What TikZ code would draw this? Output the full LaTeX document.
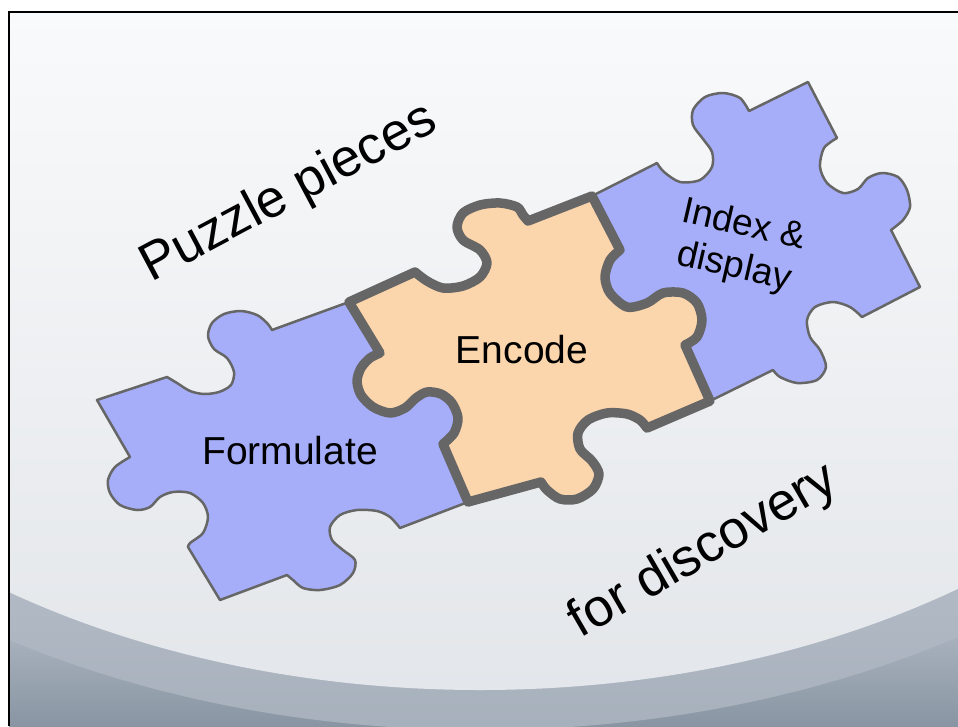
\documentclass[tikz,border=0pt]{standalone}
\usepackage{fontspec}
\setmainfont{Liberation Sans}
\definecolor{pblue}{HTML}{A6AEFA}
\definecolor{porange}{HTML}{FBD5AB}
\definecolor{pborder}{HTML}{666666}
\definecolor{bglight}{HTML}{F9FAFB}
\definecolor{bglow}{HTML}{E3E6EA}
\definecolor{bgmid}{HTML}{C9D0D8}
\definecolor{bgdark}{HTML}{8995A3}
\definecolor{bgband}{HTML}{AFB8C3}
\tikzset{
  bluepiece/.style={fill=pblue, draw=pborder, line width=2.5pt, line join=round},
  orangepiece/.style={fill=porange, draw=pborder, line width=9.5pt, line join=round},
  bigtext/.style={font=\fontsize{53}{60}\selectfont, inner sep=0pt},
  piecetext/.style={font=\fontsize{39}{44}\selectfont, inner sep=0pt, align=center},
}
\begin{document}
\begin{tikzpicture}[x=1pt, y=-1pt]
\useasboundingbox (0,0) rectangle (958,726);
\fill[white] (0,0) rectangle (958,726);
% slide background
\begin{scope}
  \clip (9,12) rectangle (958,726);
  \shade[top color=bgmid, bottom color=bgdark] (9,540) rectangle (958,726);
  \fill[bgband, opacity=0.8] (480,120) ellipse [x radius=900, y radius=610];
  \begin{scope}
    \clip (480,150) ellipse [x radius=820, y radius=540];
    \shade[top color=bglight, middle color=bglight, bottom color=bglow] (9,12) rectangle (958,690);
  \end{scope}
\end{scope}
\draw[line width=2pt] (9,726) -- (9,12) -- (958,12);

% Formulate piece
\path[bluepiece] (97,400) -- (167,377)
  -- plot[smooth] coordinates {(167,377) (177,383) (190,391) (204,394) (219,392) (231,385) (234,372) (227,358) (214,349) (208,336) (212,323) (224,314) (241,311) (257,315) (267,323) (272,330)}
  -- (349,302) -- (380,353)
  -- plot[smooth] coordinates {(380,353) (370,358) (361,368) (357,381) (361,395) (373,407) (390,413) (405,408) (416,398) (427,392) (441,394) (452,403) (458,418) (454,433) (443,444)}
  -- (468,502) -- (400,528)
  -- plot[smooth] coordinates {(400,528) (390,517) (377,511) (357,510) (340,515) (330,527) (332,540) (343,550) (355,560) (353,573) (340,585) (320,590) (303,588) (293,580) (287,575)}
  -- (220,600) -- (188,547)
  -- plot[smooth] coordinates {(188,547) (190,543) (203,533) (208,517) (203,503) (190,493) (173,492) (160,497) (150,507) (137,510) (120,505) (110,493) (108,480) (115,467) (130,457)}
  -- cycle;

% Index piece
\path[bluepiece] (592,196) -- (657,163)
  -- plot[smooth] coordinates {(657,163) (664,172) (680,182) (700,180) (712,167) (712,152) (703,139) (693,125) (693,110) (705,97) (723,93) (740,98) (749,111)}
  -- (808,82) -- (837,138)
  -- plot[smooth] coordinates {(837,138) (824,148) (820,167) (827,183) (843,193) (858,189) (868,178) (882,173) (898,177) (907,190) (910,207) (903,220) (891,230)}
  -- (920,287) -- (862,317)
  -- plot[smooth] coordinates {(862,317) (850,307) (833,302) (815,307) (807,320) (810,337) (820,350) (826,367) (817,380) (797,383) (780,377) (773,370)}
  -- (710,401) -- (685,345)
  -- plot[smooth] coordinates {(685,345) (697,337) (702,320) (697,303) (683,293) (663,293) (647,303) (627,307) (610,293) (605,277) (610,260) (620,250)}
  -- cycle;

% Encode piece
\path[orangepiece] (349,302) -- (415,272)
  -- plot[smooth] coordinates {(415,272) (427,281) (443,288) (463,286) (480,277) (487,263) (480,250) (463,240) (457,227) (463,213) (480,205) (500,203) (517,207) (523,215) (528,221)}
  -- (592,196) -- (620,250)
  -- plot[smooth] coordinates {(620,250) (610,260) (605,277) (610,293) (627,307) (647,303) (663,293) (683,293) (697,303) (702,320) (697,337) (685,345)}
  -- (710,401) -- (647,428)
  -- plot[smooth] coordinates {(647,428) (640,420) (627,414) (607,413) (588,420) (578,433) (580,449) (592,461) (599,474) (593,489) (577,499) (560,499) (547,490) (541,482)}
  -- (468,502) -- (443,444)
  -- plot[smooth] coordinates {(443,444) (454,433) (458,418) (452,403) (441,394) (427,392) (416,398) (405,408) (390,413) (373,407) (361,395) (357,381) (361,368) (370,358) (380,353)}
  -- cycle;

% texts
\node[bigtext, rotate=28] (title) at (289,194) {Puzzle pieces};
\node[bigtext, rotate=30] (sub) at (704,552) {for discovery};
\node[piecetext] (formulate) at (290,451) {Formulate};
\node[piecetext] (encode) at (522,350) {Encode};
\node[piecetext, font=\fontsize{37}{43}\selectfont, rotate=-13] (index) at (739,247) {Index \&\\display};
\end{tikzpicture}
\end{document}
